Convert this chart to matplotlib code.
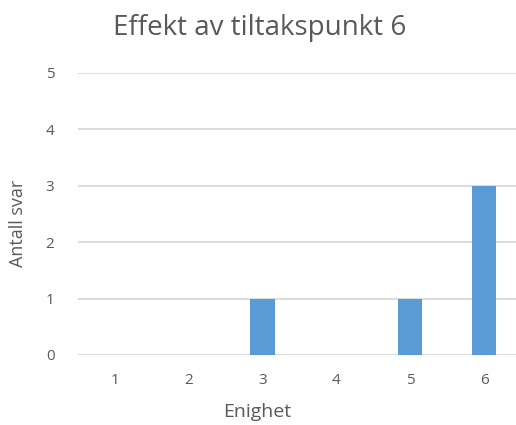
import matplotlib.pyplot as plt

# data
categories = ["1", "2", "3", "4", "5", "6"]
counts = [0, 0, 1, 0, 1, 3]

plt.rcParams['font.family'] = ['Open Sans', 'DejaVu Sans']
txt = '#595959'

W, H = 516, 425
fig = plt.figure(figsize=(W / 100, H / 100), dpi=100)
ax = fig.add_axes([78 / W, 70 / H, 443 / W, 282 / H])

x = list(range(len(categories)))
ax.bar(x, counts, width=0.33, color='#5b9bd5', zorder=3)

ax.set_xlim(-0.5, len(categories) - 0.5)
ax.set_ylim(0, 5)
ax.set_yticks(range(6))
ax.set_xticks(x)
ax.set_xticklabels(categories)
ax.yaxis.grid(True, color='#d9d9d9', linewidth=1.3, zorder=0)
for s in ax.spines.values():
    s.set_visible(False)
ax.tick_params(length=0, colors=txt, labelsize=11)
ax.tick_params(axis='y', pad=17)
ax.tick_params(axis='x', pad=13)

# axis titles and chart title are centred on the original chart box
fig.text(257 / W, 1 - 412 / H, 'Enighet', ha='center', va='center',
         fontsize=14, color=txt)
fig.text(18 / W, 1 - 223 / H, 'Antall svar', ha='center', va='center',
         rotation=90, fontsize=13, color=txt)
fig.text(260 / W, 1 - 28 / H, 'Effekt av tiltakspunkt 6', ha='center',
         va='center', fontsize=20, color=txt)

fig.savefig('out.png', dpi=100)
